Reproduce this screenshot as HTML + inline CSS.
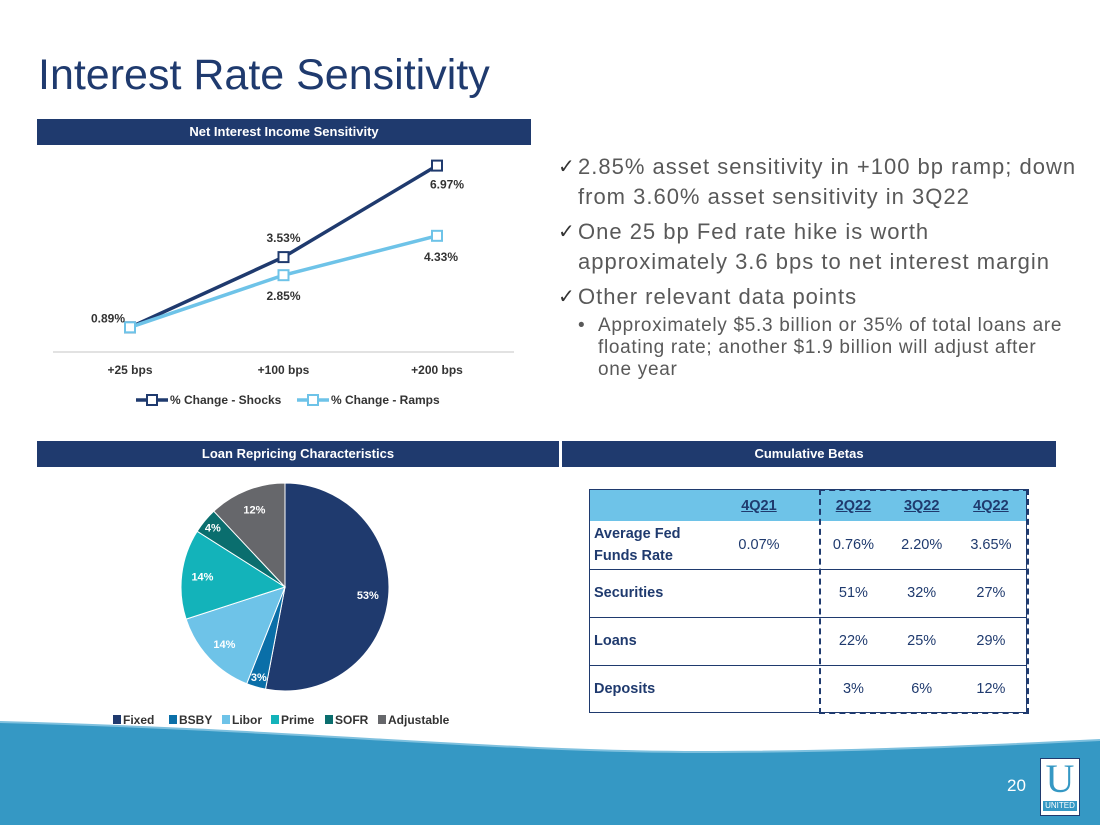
<!DOCTYPE html>
<html><head><meta charset="utf-8"><style>
body{margin:0;width:1100px;height:825px;overflow:hidden;background:#fff;font-family:"Liberation Sans",sans-serif;position:relative}
.abs{position:absolute}
.hdr{position:absolute;background:#1F3A6E;color:#fff;font-weight:bold;font-size:13px;text-align:center;line-height:26px;height:26px}
.bul{position:absolute;left:558px;width:540px;font-size:22px;letter-spacing:1px;color:#595959;line-height:30px;white-space:nowrap}
.bul span.ck{position:absolute;left:0;font-size:20px;color:#333}
table{border-collapse:collapse;font-size:14.5px;color:#1F3A6E}
td:first-child{padding-left:4px}
</style></head><body>
<svg class="abs" style="left:0;top:0" width="1100" height="825">
<path d="M0,722 C300,730 500,752 700,752 C850,752 1000,745 1100,740 L1100,825 L0,825 Z" fill="#3598C4"/>
<path d="M0,722 C300,730 500,752 700,752 C850,752 1000,745 1100,740" fill="none" stroke="#7EC0DE" stroke-width="2"/>
</svg>
<div class="abs" style="left:38px;top:51px;font-size:43px;color:#1F3A6E">Interest Rate Sensitivity</div>
<div class="hdr" style="left:37px;top:119px;width:494px">Net Interest Income Sensitivity</div>
<div class="hdr" style="left:37px;top:441px;width:522px">Loan Repricing Characteristics</div>
<div class="hdr" style="left:562px;top:441px;width:494px">Cumulative Betas</div>

<div>
<div class="bul" style="top:152px;padding-left:20px"><span class="ck">✓</span>2.85% asset sensitivity in +100 bp ramp; down<br>from 3.60% asset sensitivity in 3Q22</div>
<div class="bul" style="top:217px;padding-left:20px"><span class="ck">✓</span>One 25 bp Fed rate hike is worth<br>approximately 3.6 bps to net interest margin</div>
<div class="bul" style="top:282px;padding-left:20px"><span class="ck">✓</span>Other relevant data points</div>
<div class="abs" style="left:578px;top:315px;width:500px;font-size:19px;letter-spacing:0.7px;white-space:nowrap;color:#595959;line-height:22px;padding-left:20px"><span style="position:absolute;left:0">•</span>Approximately $5.3 billion or 35% of total loans are<br>floating rate; another $1.9 billion will adjust after<br>one year</div>
</div>

<svg class="abs" id="line" style="left:0;top:0" width="560" height="420"></svg>
<svg class="abs" id="pie" style="left:0;top:470" width="560" height="260"></svg>

<div class="abs" style="left:590px;top:490px">
<table style="width:436px">
<tr style="background:#6EC3E8;height:31px;font-weight:bold;text-decoration:underline;text-align:center"><td style="width:106px"></td><td style="width:124px">4Q21</td><td style="width:68px">2Q22</td><td style="width:68px">3Q22</td><td style="width:70px">4Q22</td></tr>
<tr style="height:48px;border-bottom:1px solid #1F3A6E;text-align:center"><td style="text-align:left;font-weight:bold;line-height:22px">Average Fed Funds Rate</td><td>0.07%</td><td>0.76%</td><td>2.20%</td><td>3.65%</td></tr>
<tr style="height:48px;border-bottom:1px solid #1F3A6E;text-align:center"><td style="text-align:left;font-weight:bold">Securities</td><td></td><td>51%</td><td>32%</td><td>27%</td></tr>
<tr style="height:48px;border-bottom:1px solid #1F3A6E;text-align:center"><td style="text-align:left;font-weight:bold">Loans</td><td></td><td>22%</td><td>25%</td><td>29%</td></tr>
<tr style="height:47px;text-align:center"><td style="text-align:left;font-weight:bold">Deposits</td><td></td><td>3%</td><td>6%</td><td>12%</td></tr>
</table></div>
<div class="abs" style="left:589px;top:489px;width:436px;height:222px;border:1px solid #1F3A6E"></div>
<div class="abs" style="left:819px;top:489px;width:206px;height:221px;border:2px dashed #1F3A6E"></div>

<div class="abs" style="left:1007px;top:776px;font-size:17px;color:#fff">20</div>
<div class="abs" style="left:1040px;top:758px;width:38px;height:56px;background:#fff;border:1px solid #1F3A6E">
<div style="text-align:center;font-family:'Liberation Serif',serif;font-size:40px;color:#3598C4;line-height:40px">U</div>
<div style="background:#3598C4;color:#fff;font-size:8px;text-align:center;margin:2px;line-height:10px">UNITED</div></div>

<script>
const cats=["+25 bps","+100 bps","+200 bps"];
const shocks=[0.89,3.53,6.97];
const ramps=[0.89,2.85,4.33];
const shockLabels=["0.89%","3.53%","6.97%"];
const rampLabels=["","2.85%","4.33%"];
const pieLabels=["Fixed","BSBY","Libor","Prime","SOFR","Adjustable"];
const pieValues=[53,3,14,14,4,12];
const NS="http://www.w3.org/2000/svg";
function mk(p,t,a){const e=document.createElementNS(NS,t);for(const k in a)e.setAttribute(k,a[k]);p.appendChild(e);return e;}
const L=document.getElementById('line');
const xs=i=>130+i*153.5, ys=v=>351-v*26.6;
let e=mk(L,'line',{x1:53,x2:514,y1:352,y2:352,stroke:'#D9D9D9','stroke-width':1.5});

cats.forEach((c,i)=>{const t=mk(L,'text',{x:xs(i),y:374,'text-anchor':'middle','font-size':12,'font-weight':'bold',fill:'#333'});t.textContent=c;
});
function series(vals,col,name){const p=mk(L,'polyline',{points:vals.map((v,i)=>xs(i)+','+ys(v)).join(' '),fill:'none',stroke:col,'stroke-width':3.5});

vals.forEach((v,i)=>{const r=mk(L,'rect',{x:xs(i)-5,y:ys(v)-5,width:10,height:10,fill:'#fff',stroke:col,'stroke-width':2});
});}
series(shocks,'#1F3A6E','shocks');series(ramps,'#6EC3E8','ramps');
shocks.forEach((v,i)=>{const dx=[-22,0,10][i],dy=[-5,-15,23][i];const t=mk(L,'text',{x:xs(i)+dx,y:ys(v)+dy,'text-anchor':'middle','font-size':12,'font-weight':'bold',fill:'#333'});t.textContent=shockLabels[i];
});
ramps.forEach((v,i)=>{if(!rampLabels[i])return;const dy=[0,25,25][i];const t=mk(L,'text',{x:xs(i)+(i==2?4:0),y:ys(v)+dy,'text-anchor':'middle','font-size':12,'font-weight':'bold',fill:'#333'});t.textContent=rampLabels[i];
});
[[138,'#1F3A6E','% Change - Shocks'],[299,'#6EC3E8','% Change - Ramps']].forEach(([x,c,s])=>{
const g=mk(L,'g',{});
mk(g,'line',{x1:x-2,x2:x+30,y1:400,y2:400,stroke:c,'stroke-width':3.5});
mk(g,'rect',{x:x+9,y:395,width:10,height:10,fill:'#fff',stroke:c,'stroke-width':2});
const t=mk(g,'text',{x:x+32,y:404,'font-size':12,'font-weight':'bold',fill:'#333'});t.textContent=s;});
const P=document.getElementById('pie');
const cols=['#1F3A6E','#0A6FA8','#6EC3E8','#13B3BA','#0A6E6E','#66676B'];
const cx=285,cy=117,R=104;const tot=pieValues.reduce((a,b)=>a+b,0);let acc=0;
pieValues.forEach((v,i)=>{const a0=acc/tot*2*Math.PI;acc+=v;const a1=acc/tot*2*Math.PI;
const pt=a=>[cx+R*Math.sin(a),cy-R*Math.cos(a)];const [x0,y0]=pt(a0),[x1,y1]=pt(a1);
const s=mk(P,'path',{d:`M${cx},${cy}L${x0},${y0}A${R},${R} 0 ${a1-a0>Math.PI?1:0} 1 ${x1},${y1}Z`,fill:cols[i],stroke:'#fff','stroke-width':1});

const am=(a0+a1)/2,rr=v<5?R*0.9:R*0.8;const t=mk(P,'text',{x:cx+rr*Math.sin(am),y:cy-rr*Math.cos(am)+4,'text-anchor':'middle','font-size':11,'font-weight':'bold',fill:'#fff'});t.textContent=v+'%';
});
const legW=[56,53,49,54,53,70];let lx=113;pieLabels.forEach((l,i)=>{const g=mk(P,'g',{});
mk(g,'rect',{x:lx,y:245,width:8,height:9,fill:cols[i]});const t=mk(g,'text',{x:lx+10,y:254,'font-size':12,'font-weight':'bold',fill:'#333'});t.textContent=l;
lx+=legW[i];});
</script>
</body></html>
